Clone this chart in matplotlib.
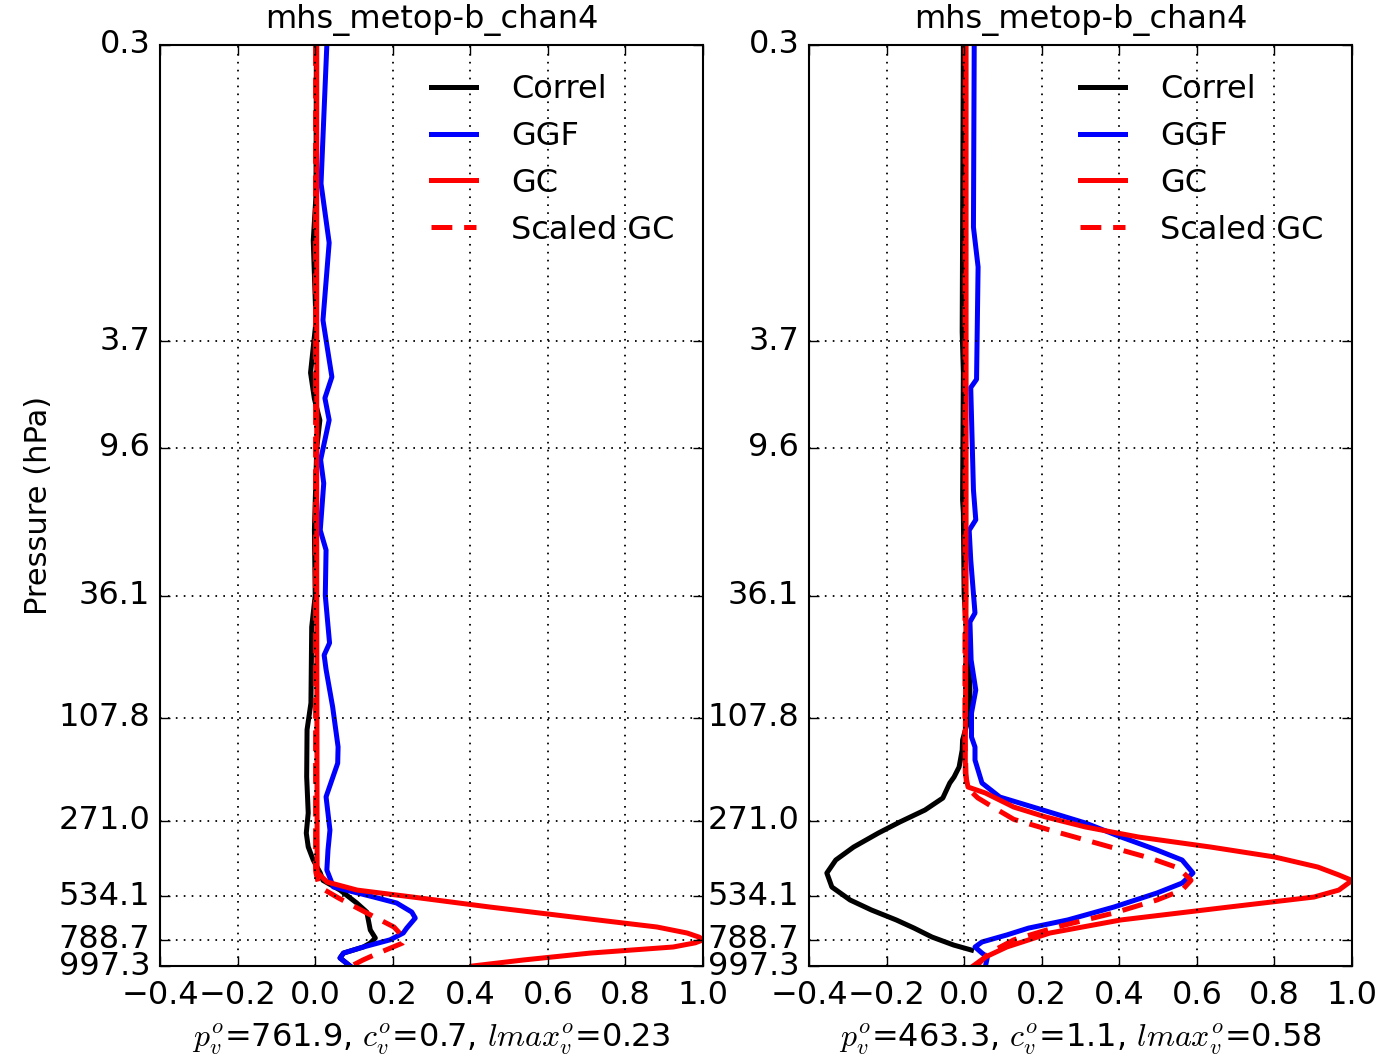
import matplotlib
matplotlib.use('Agg')
import matplotlib.pyplot as plt
from matplotlib.ticker import FixedLocator, FixedFormatter, NullLocator

# axis ticks
ytick_levels = [0.26, 3.7, 9.6, 36.1, 107.8, 271.0, 534.1, 788.7, 997.3]
ytick_labels = ['0.3', '3.7', '9.6', '36.1', '107.8', '271.0', '534.1', '788.7', '997.3']
xticks = [-0.4, -0.2, 0.0, 0.2, 0.4, 0.6, 0.8, 1.0]

title = 'mhs_metop-b_chan4'

# ---------------- left panel ----------------
left_correl_p = [0.26, 1.0, 1.5, 3.1, 4.9, 6.2, 7.5, 9.6, 20.0, 36.1, 47.8, 94.5, 120.0,
                 183.0, 253.0, 303.0, 343.0, 386.0, 433.0, 463.0, 505.0, 567.0, 615.0,
                 660.0, 722.0, 776.0, 812.0, 841.0, 888.0, 928.0, 997.3]
left_correl = [0.003, 0.002, -0.005, 0.002, -0.012, -0.002, 0.012, 0.004, -0.002, 0.0, -0.009,
               -0.011, -0.021, -0.022, -0.018, -0.023, -0.018, -0.005, 0.013, 0.02, 0.064,
               0.107, 0.133, 0.137, 0.142, 0.155, 0.142, 0.124, 0.073, 0.064, 0.09]

left_ggf_p = [0.26, 0.9, 1.53, 3.06, 5.09, 6.15, 7.49, 10.7, 13.2, 20.1, 24.0, 36.1, 55.2,
              61.5, 70.0, 97.9, 140.0, 162.0, 219.0, 295.0, 352.0, 422.0, 491.0, 537.0,
              567.0, 615.0, 649.0, 710.0, 742.0, 788.7, 841.0, 888.0, 928.0, 997.3]
left_ggf = [0.030, 0.015, 0.036, 0.020, 0.043, 0.025, 0.036, 0.014, 0.022, 0.013, 0.028,
            0.026, 0.037, 0.023, 0.028, 0.045, 0.059, 0.058, 0.028, 0.038, 0.033, 0.030,
            0.047, 0.150, 0.210, 0.249, 0.258, 0.236, 0.227, 0.193, 0.124, 0.073, 0.064, 0.090]

left_gc_p = [0.26, 36.1, 422.0, 434.0, 470.0, 505.0, 542.0, 588.0, 643.0, 703.0, 742.0,
             770.0, 788.7, 810.0, 841.0, 888.0, 945.0, 997.3]
left_gc = [0.004, 0.004, 0.005, 0.007, 0.031, 0.108, 0.270, 0.451, 0.665, 0.881, 0.959,
           0.99, 1.0, 0.98, 0.923, 0.709, 0.536, 0.405]

left_sgc_p = [0.26, 422.0, 433.0, 474.0, 505.0, 542.0, 588.0, 643.0, 703.0, 755.0, 788.7,
              812.0, 888.0, 945.0, 997.3]
left_sgc = [0.001, 0.001, 0.002, 0.008, 0.025, 0.060, 0.104, 0.153, 0.203, 0.222, 0.230,
            0.225, 0.163, 0.123, 0.093]

left_xlabel = r'$p_v^o$=761.9, $c_v^o$=0.7, $lmax_v^o$=0.23'

# ---------------- right panel ----------------
right_correl_p = [0.26, 3.4, 4.9, 15.3, 17.2, 36.1, 58.8, 84.0, 107.8, 131.6, 144.0, 167.7,
                  183.4, 193.5, 221.4, 246.5, 274.5, 302.9, 343.5, 385.8, 433.5, 491.4,
                  552.0, 603.7, 660.0, 710.0, 769.0, 826.4, 864.5]
right_correl = [-0.002, -0.005, -0.002, -0.004, -0.002, 0.0, 0.010, 0.015, 0.012, -0.004,
                -0.005, -0.013, -0.026, -0.037, -0.055, -0.101, -0.166, -0.221, -0.285,
                -0.331, -0.354, -0.341, -0.294, -0.239, -0.175, -0.129, -0.083, -0.027, 0.019]

right_ggf_p = [0.26, 1.33, 1.9, 5.2, 5.6, 14.0, 18.3, 20.1, 26.2, 42.2, 45.7, 64.3, 84.1,
               103.4, 128.2, 140.2, 157.5, 193.5, 219.4, 246.5, 277.0, 314.0, 352.7, 385.8,
               433.5, 474.3, 518.6, 588.0, 660.0, 710.0, 755.0, 804.0, 841.0, 888.0, 920.0, 997.3]
right_ggf = [0.026, 0.024, 0.036, 0.032, 0.017, 0.024, 0.030, 0.013, 0.017, 0.028, 0.015,
             0.018, 0.030, 0.019, 0.019, 0.028, 0.028, 0.046, 0.092, 0.203, 0.313, 0.405,
             0.497, 0.562, 0.590, 0.562, 0.497, 0.386, 0.267, 0.166, 0.110, 0.046, 0.028,
             0.046, 0.060, 0.055]

right_gc_p = [0.26, 36.1, 131.6, 177.0, 200.6, 211.7, 240.0, 262.5, 287.0, 314.0, 343.5,
              375.5, 410.9, 441.0, 463.3, 505.0, 537.5, 588.0, 660.0, 742.0, 841.0, 920.0, 997.3]
right_gc = [0.005, 0.005, 0.003, 0.003, 0.010, 0.055, 0.128, 0.211, 0.313, 0.450, 0.636,
            0.801, 0.912, 0.966, 1.0, 0.966, 0.902, 0.682, 0.404, 0.221, 0.110, 0.055, 0.023]

right_sgc_p = [0.26, 131.6, 200.6, 221.0, 240.0, 268.0, 295.0, 322.5, 352.7, 379.0, 414.6,
               462.8, 505.0, 552.0, 620.0, 703.0, 788.7, 888.0, 997.3]
right_sgc = [0.003, 0.002, 0.006, 0.035, 0.074, 0.128, 0.221, 0.313, 0.405, 0.479, 0.553,
             0.585, 0.562, 0.497, 0.386, 0.239, 0.128, 0.064, 0.032]

right_xlabel = r'$p_v^o$=463.3, $c_v^o$=1.1, $lmax_v^o$=0.58'

plt.style.use('classic')
plt.rcParams['figure.facecolor'] = 'white'
plt.rcParams['savefig.facecolor'] = 'white'
plt.rcParams['lines.scale_dashes'] = False

FS = 23
LW = 3.6


def draw_panel(ax, correl_p, correl, ggf_p, ggf, gc_p, gc, sgc_p, sgc, xlabel):
    ax.plot(correl, correl_p, color='k', lw=LW, label='Correl')
    ax.plot(ggf, ggf_p, color='b', lw=LW, label='GGF')
    ax.plot(gc, gc_p, color='r', lw=LW, label='GC')
    ax.plot(sgc, sgc_p, color='r', lw=LW, linestyle=(0, (15, 8.5)), label='Scaled GC')

    ax.set_yscale('log')
    ax.set_ylim(997.3, 0.26)
    ax.yaxis.set_major_locator(FixedLocator(ytick_levels))
    ax.yaxis.set_major_formatter(FixedFormatter(ytick_labels))
    ax.yaxis.set_minor_locator(NullLocator())
    ax.set_xlim(-0.4, 1.0)
    ax.set_xticks(xticks)
    ax.tick_params(labelsize=FS, direction='in', length=7, width=1)
    ax.tick_params(axis='y', pad=7)
    ax.tick_params(axis='x', pad=10)
    for s in ax.spines.values():
        s.set_linewidth(1.5)
    ax.grid(True, color='k', linestyle=(0, (1.2, 4.5)), linewidth=1.3)
    ax.set_title(title, fontsize=FS, pad=12)
    ax.set_xlabel(xlabel, fontsize=FS, labelpad=8)
    ax.legend(loc='upper right', frameon=False, fontsize=FS)


fig = plt.figure(figsize=(13.81, 10.56), dpi=100)
ax1 = fig.add_axes([0.1159, 0.0852, 0.3932, 0.8722])
ax2 = fig.add_axes([0.5858, 0.0852, 0.3932, 0.8722])

draw_panel(ax1, left_correl_p, left_correl, left_ggf_p, left_ggf, left_gc_p, left_gc,
           left_sgc_p, left_sgc, left_xlabel)
ax1.set_ylabel('Pressure (hPa)', fontsize=22, labelpad=4)

draw_panel(ax2, right_correl_p, right_correl, right_ggf_p, right_ggf, right_gc_p, right_gc,
           right_sgc_p, right_sgc, right_xlabel)

fig.savefig('out.png', dpi=100)
